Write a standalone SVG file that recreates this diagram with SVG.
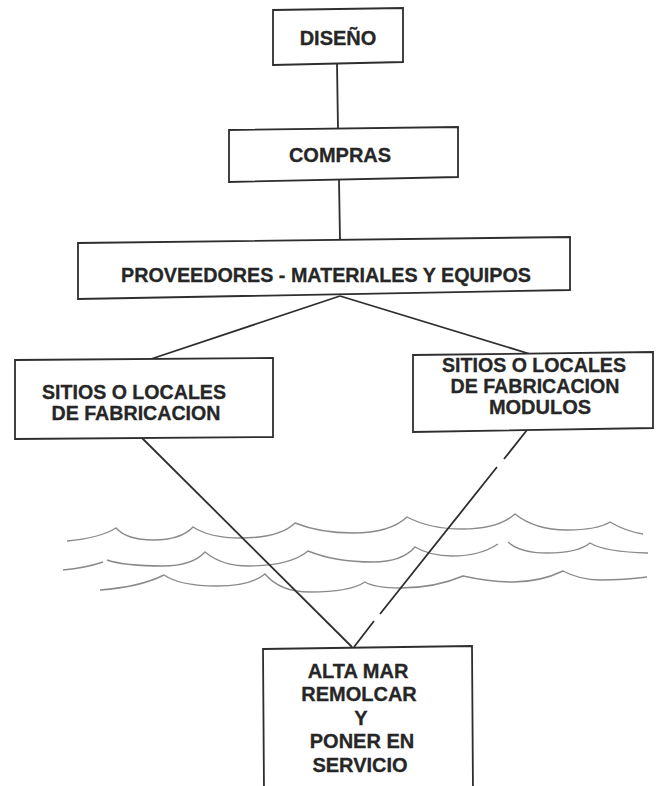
<svg xmlns="http://www.w3.org/2000/svg" width="656" height="786" viewBox="0 0 656 786">
  <style>
    .box { fill: #ffffff; stroke: #2e2e2e; stroke-width: 1.8; }
    .lbl { font-family: "Liberation Sans", Arial, Helvetica, sans-serif; font-weight: bold; font-size: 20px; fill: #262626; stroke: #262626; stroke-width: 0.3; text-anchor: middle; }
    .conn { fill: none; stroke: #2e2e2e; stroke-width: 1.8; }
    .wave { fill: none; stroke: #8a8a8a; stroke-width: 1.4; }
  </style>
  <rect width="656" height="786" fill="#ffffff"/>

  <g id="waves">
    <path class="wave" d="M67,541 Q100,538 116,528 Q127,540 153,540 Q181,540 193,527 Q210,538 240,538 Q280,538 295,523 Q320,533 353,533 Q390,533 407,517 Q430,529 462,529 Q498,529 515,514 Q535,530 567,530 Q597,530 610,522 Q625,531 643,534"/>
    <path class="wave" d="M63,570 Q85,568 103,562 M107,560 Q125,566 163,566 Q192,566 205,552 Q222,566 248,566 Q290,566 308,551 Q335,562 373,562 Q402,562 415,547 Q430,556 452,556 Q480,556 498,544 M508,542 Q520,553 547,553 Q578,553 590,543 Q605,552 648,553"/>
    <path class="wave" d="M100,590 Q140,587 164,575 Q180,586 217,586 Q250,586 265,574 Q280,592 310,592 Q350,592 365,582 Q375,588 400,588 Q435,588 463,576 Q490,582 513,582 Q540,582 563,571 Q580,580 600,580 Q625,580 647,577"/>
  </g>

  <g id="connectors">
    <path class="conn" d="M337,64 L338,129"/>
    <path class="conn" d="M339,180 L340,240"/>
    <path class="conn" d="M340,296 L148,360"/>
    <path class="conn" d="M340,296 L530,354"/>
    <path class="conn" d="M142,438 L352,647"/>
    <path class="conn" d="M527,430 L504,459 M497,467 L380,614 M374,621 L354,647"/>
  </g>

  <g id="diseno">
    <polygon class="box" points="273,10 403,8 403,62 273,65"/>
    <text class="lbl" x="338" y="45">DISEÑO</text>
  </g>

  <g id="compras">
    <polygon class="box" points="229,130 458,127 458,177 229,182"/>
    <text class="lbl" x="340" y="162">COMPRAS</text>
  </g>

  <g id="proveedores">
    <polygon class="box" points="78,243 570,237 570,290 78,299"/>
    <text class="lbl" x="326" y="282" textLength="410" lengthAdjust="spacingAndGlyphs">PROVEEDORES - MATERIALES Y EQUIPOS</text>
  </g>

  <g id="sitios-fabricacion">
    <polygon class="box" points="15,360 273,358 273,437 15,439"/>
    <text class="lbl" x="134" y="399" textLength="184" lengthAdjust="spacingAndGlyphs">SITIOS O LOCALES</text>
    <text class="lbl" x="136" y="420" textLength="169" lengthAdjust="spacingAndGlyphs">DE FABRICACION</text>
  </g>

  <g id="sitios-modulos">
    <polygon class="box" points="413,355 653,352 653,428 413,432"/>
    <text class="lbl" x="534" y="372" textLength="184" lengthAdjust="spacingAndGlyphs">SITIOS O LOCALES</text>
    <text class="lbl" x="535" y="393" textLength="169" lengthAdjust="spacingAndGlyphs">DE FABRICACION</text>
    <text class="lbl" x="540" y="414">MODULOS</text>
  </g>

  <g id="alta-mar">
    <polygon class="box" points="263,649 472,646 473,792 264,792"/>
    <text class="lbl" x="358" y="678">ALTA MAR</text>
    <text class="lbl" x="359" y="701">REMOLCAR</text>
    <text class="lbl" x="361" y="725">Y</text>
    <text class="lbl" x="362" y="748">PONER EN</text>
    <text class="lbl" x="360" y="772">SERVICIO</text>
  </g>
</svg>
